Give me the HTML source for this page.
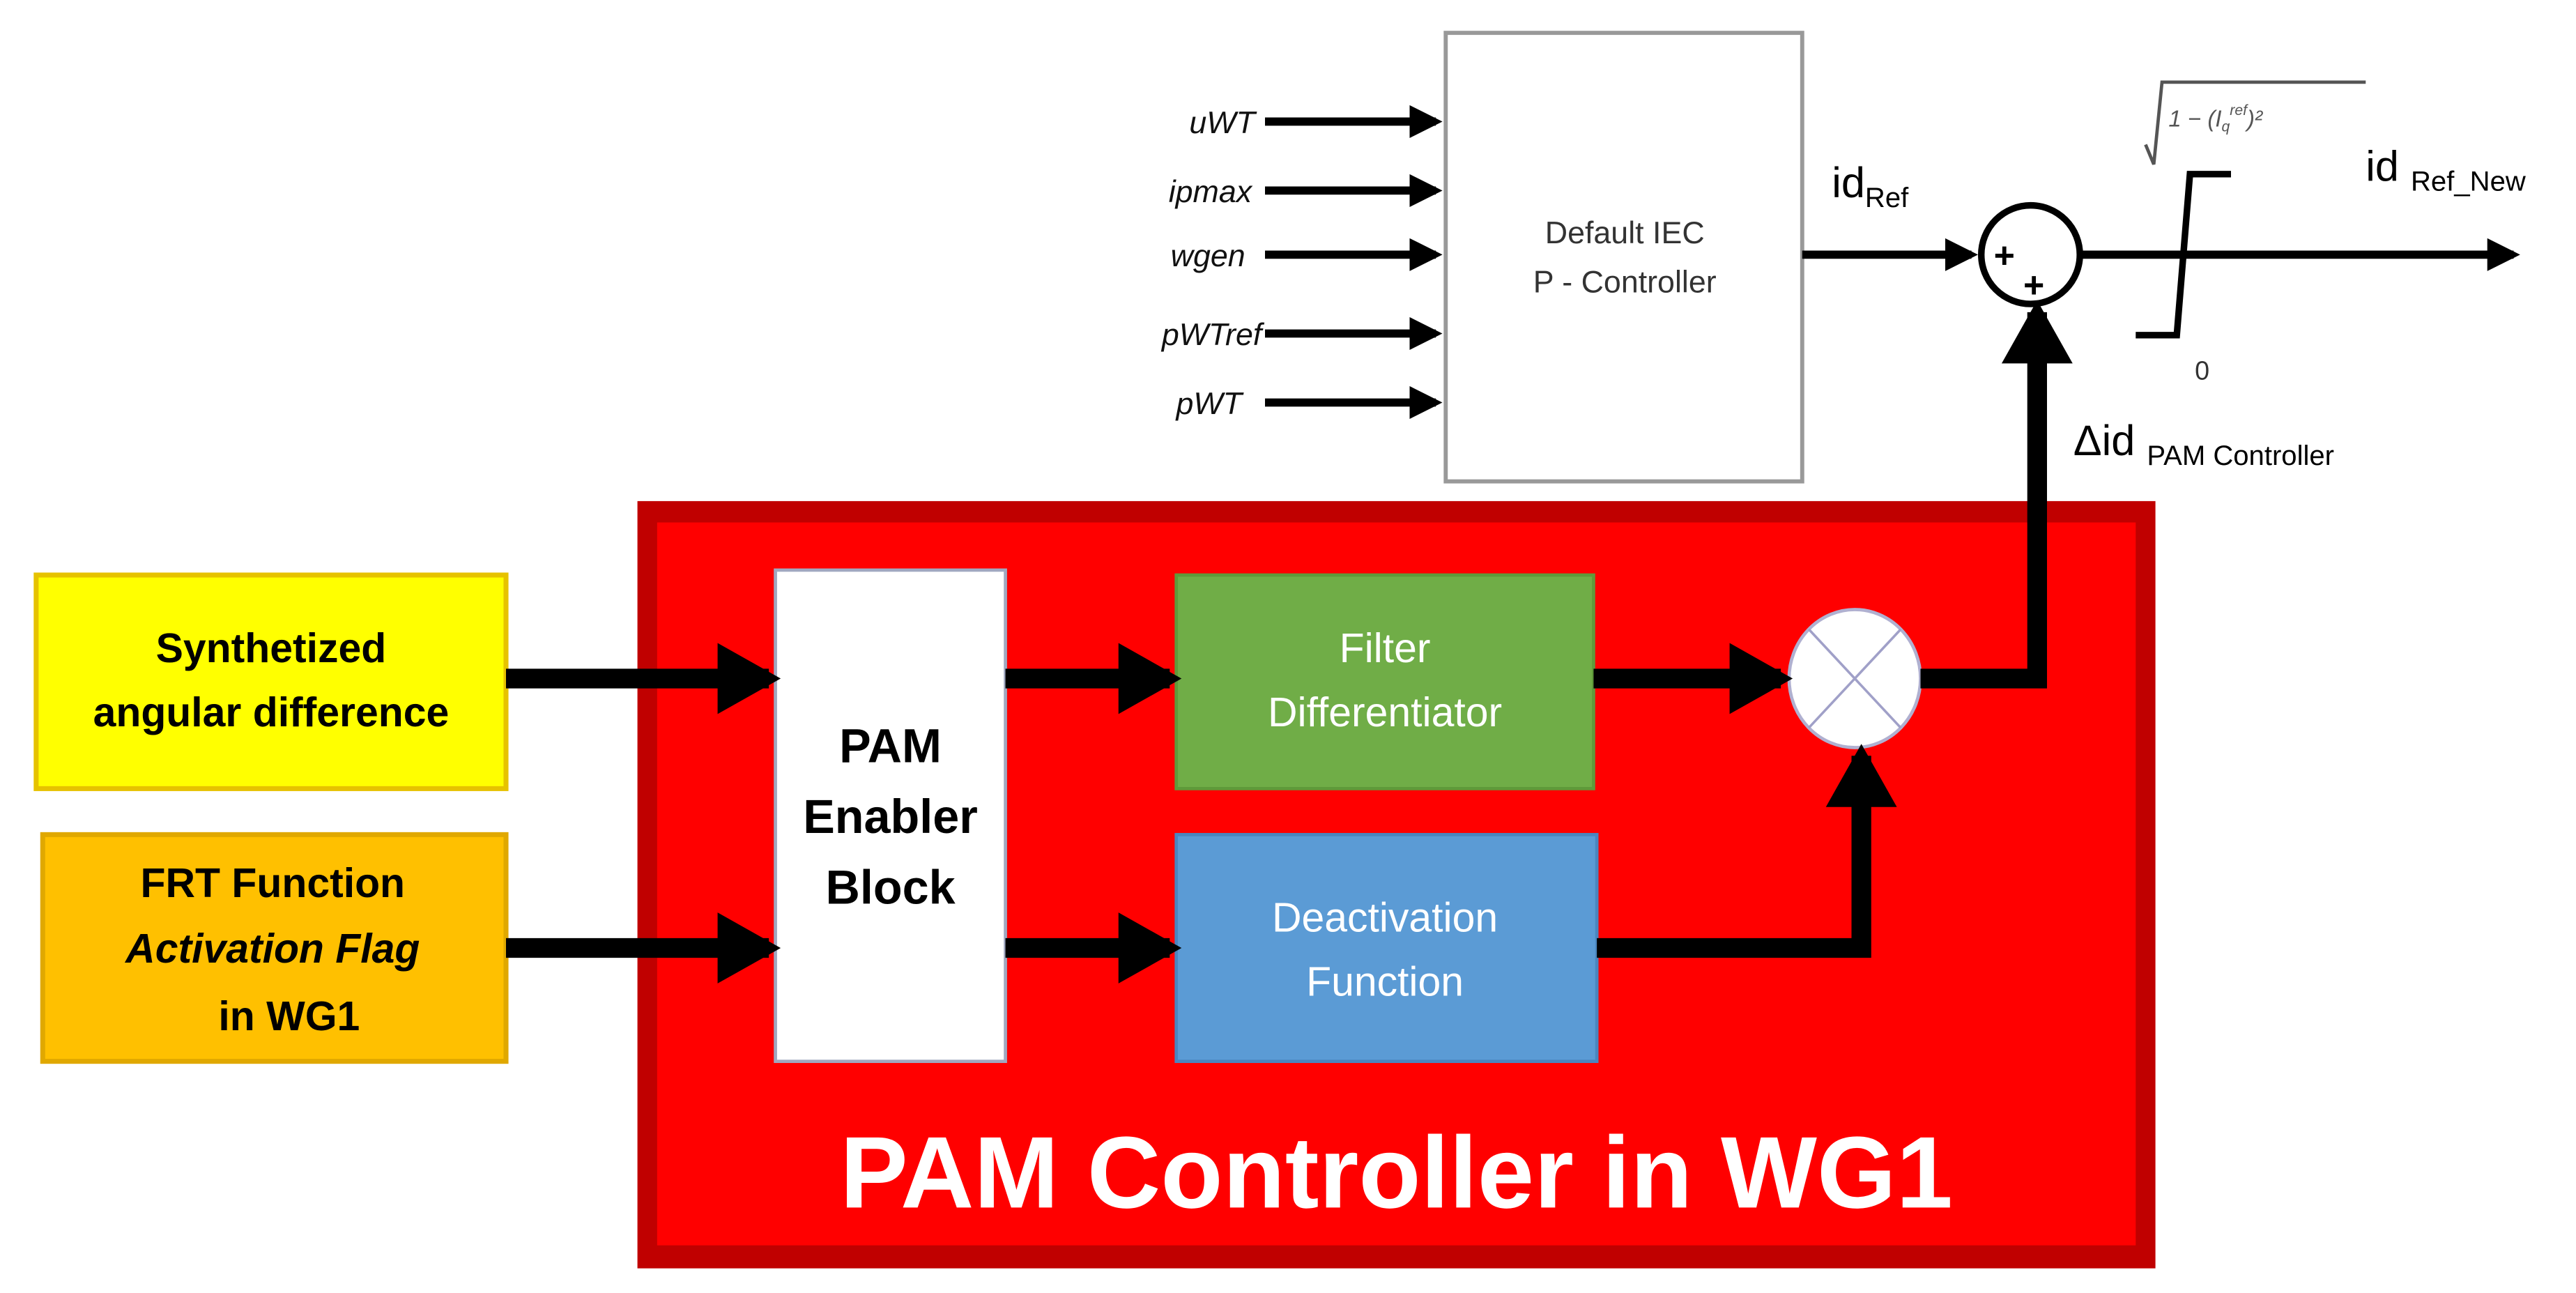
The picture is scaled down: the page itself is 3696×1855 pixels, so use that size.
<!DOCTYPE html>
<html><head><meta charset="utf-8"><style>html,body{margin:0;padding:0;background:#fff}svg{display:block}</style></head>
<body>
<svg width="3696" height="1855" viewBox="0 0 1568 787" preserveAspectRatio="none" xmlns="http://www.w3.org/2000/svg" font-family="Liberation Sans, sans-serif">
<defs>
<marker id="ah" markerWidth="3.2" markerHeight="3.6" refX="2.6" refY="1.8" orient="auto" markerUnits="strokeWidth"><path d="M0,0 L3.2,1.8 L0,3.6 z" fill="#000"/></marker>
<marker id="as" markerWidth="4" markerHeight="4" refX="3.2" refY="2" orient="auto" markerUnits="strokeWidth"><path d="M0,0 L4,2 L0,4 z" fill="#000"/></marker>
</defs>
<rect x="388" y="305" width="924" height="467" fill="#c00000"/>
<rect x="400" y="318" width="900" height="440" fill="#ff0000"/>
<text x="850" y="735" text-anchor="middle" fill="#fff" font-weight="bold" font-size="62">PAM Controller in WG1</text>
<rect x="22" y="350" width="286" height="130" fill="#ffff00" stroke="#e6c200" stroke-width="3"/>
<text x="165" y="403" text-anchor="middle" font-weight="bold" font-size="25">Synthetized</text>
<text x="165" y="442" text-anchor="middle" font-weight="bold" font-size="25">angular difference</text>
<rect x="26" y="508" width="282" height="138" fill="#ffc000" stroke="#e0a800" stroke-width="3"/>
<text x="166" y="546" text-anchor="middle" font-weight="bold" font-size="25">FRT Function</text>
<text x="166" y="586" text-anchor="middle" font-weight="bold" font-style="italic" font-size="25">Activation Flag</text>
<text x="176" y="627" text-anchor="middle" font-weight="bold" font-size="25">in WG1</text>
<rect x="472" y="347" width="140" height="299" fill="#fff" stroke="#a0a8c0" stroke-width="2"/>
<text x="542" y="464" text-anchor="middle" font-weight="bold" font-size="29">PAM</text>
<text x="542" y="507" text-anchor="middle" font-weight="bold" font-size="29">Enabler</text>
<text x="542" y="550" text-anchor="middle" font-weight="bold" font-size="29">Block</text>
<rect x="716" y="350" width="254" height="130" fill="#70ad47" stroke="#5f9a3a" stroke-width="2"/>
<text x="843" y="403" text-anchor="middle" fill="#fff" font-size="25">Filter</text>
<text x="843" y="442" text-anchor="middle" fill="#fff" font-size="25">Differentiator</text>
<rect x="716" y="508" width="256" height="138" fill="#5b9bd5" stroke="#4a86c0" stroke-width="2"/>
<text x="843" y="567" text-anchor="middle" fill="#fff" font-size="25">Deactivation</text>
<text x="843" y="606" text-anchor="middle" fill="#fff" font-size="25">Function</text>
<ellipse cx="1129" cy="413" rx="40" ry="42" fill="#fff" stroke="#b0b0d0" stroke-width="2"/>
<line x1="1101" y1="383" x2="1157" y2="443" stroke="#a0a0c8" stroke-width="1.5"/>
<line x1="1157" y1="383" x2="1101" y2="443" stroke="#a0a0c8" stroke-width="1.5"/>
<g stroke="#000" stroke-width="12" fill="none">
<line x1="308" y1="413" x2="468" y2="413" marker-end="url(#ah)"/>
<line x1="308" y1="577" x2="468" y2="577" marker-end="url(#ah)"/>
<line x1="612" y1="413" x2="712" y2="413" marker-end="url(#ah)"/>
<line x1="612" y1="577" x2="712" y2="577" marker-end="url(#ah)"/>
<line x1="970" y1="413" x2="1084" y2="413" marker-end="url(#ah)"/>
<polyline points="972,577 1133,577 1133,460" marker-end="url(#ah)"/>
<polyline points="1169,413 1240,413 1240,190" marker-end="url(#ah)"/>
</g>
<rect x="880" y="20" width="217" height="273" fill="#fff" stroke="#999" stroke-width="2.5"/>
<text x="989" y="148" text-anchor="middle" fill="#333" font-size="19">Default IEC</text>
<text x="989" y="178" text-anchor="middle" fill="#333" font-size="19">P - Controller</text>
<g font-style="italic" font-size="19" text-anchor="end" fill="#111">
<text x="764" y="81">uWT</text>
<text x="762" y="123">ipmax</text>
<text x="758" y="162">wgen</text>
<text x="768" y="210">pWTref</text>
<text x="756" y="252">pWT</text>
</g>
<g stroke="#000" stroke-width="5">
<line x1="770" y1="74" x2="874" y2="74" marker-end="url(#as)"/>
<line x1="770" y1="116" x2="874" y2="116" marker-end="url(#as)"/>
<line x1="770" y1="155" x2="874" y2="155" marker-end="url(#as)"/>
<line x1="770" y1="203" x2="874" y2="203" marker-end="url(#as)"/>
<line x1="770" y1="245" x2="874" y2="245" marker-end="url(#as)"/>
<line x1="1097" y1="155" x2="1200" y2="155" marker-end="url(#as)"/>
<line x1="1266" y1="155" x2="1530" y2="155" marker-end="url(#as)"/>
</g>
<circle cx="1236" cy="155" r="30" fill="#fff" stroke="#000" stroke-width="4"/>
<text x="1220" y="163" text-anchor="middle" font-size="22" font-weight="bold">+</text>
<text x="1238" y="181" text-anchor="middle" font-size="22" font-weight="bold">+</text>
<text x="1115" y="120" font-size="26">id<tspan font-size="17" dy="6">Ref</tspan></text>
<text x="1262" y="277" font-size="26">Δid <tspan font-size="17" dy="6">PAM Controller</tspan></text>
<text x="1440" y="110" font-size="26">id <tspan font-size="17" dy="6">Ref_New</tspan></text>
<polyline points="1300,204 1325,204 1333,106 1358,106" fill="none" stroke="#000" stroke-width="4"/>
<text x="1336" y="231" font-size="16" fill="#333">0</text>
<polyline points="1306,88 1311,100 1316,50 1440,50" fill="none" stroke="#555" stroke-width="2"/>
<text x="1320" y="77" font-size="14" fill="#555" font-style="italic">1 − (I<tspan font-size="9" dy="3">q</tspan><tspan font-size="9" dy="-10">ref</tspan><tspan dy="7">)²</tspan></text>
</svg>
</body></html>
